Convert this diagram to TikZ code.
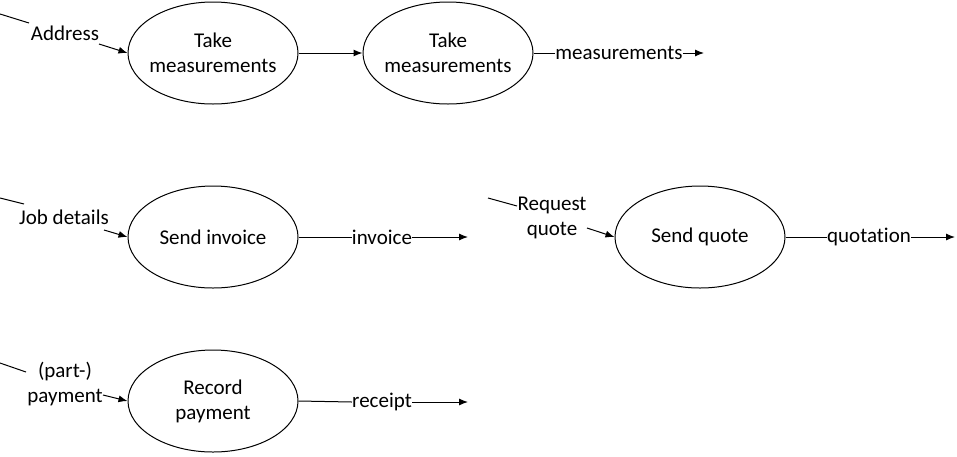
\documentclass[tikz,border=0pt]{standalone}
\usepackage{fontspec}
\setmainfont[Ligatures=NoCommon]{Carlito}
\usetikzlibrary{shapes.geometric,arrows.meta}
\begin{document}
\begin{tikzpicture}[x=1pt,y=-1pt,
  every node/.style={font=\fontsize{21}{25}\selectfont},
  proc/.style={ellipse,draw,line width=1pt,minimum width=170pt,minimum height=102pt,inner xsep=-40pt,inner ysep=-25pt,align=center},
  lbl/.style={inner sep=0pt,align=center},
  flow/.style={line width=1pt},
  arr/.style={line width=1pt,-{Latex[length=9pt,width=7pt]}}]
\useasboundingbox (0,0) rectangle (957,456);
% row 1
\node[proc] (tm1) at (213,53) {Take\\measurements};
\node[proc] (tm2) at (448,53) {Take\\measurements};
\node[lbl] (addr) at (65,33) {Address};
\node[lbl] (meas) at (619,53) {measurements};
\coordinate (a0) at (0,14);
\coordinate (a1) at (29,23);
\coordinate (a2) at (99,44);
\coordinate (m1) at (704,53);
\draw[flow] (a0) -- (a1);
\draw[arr] (a2) -- (tm1.west);
\draw[arr] (tm1.east) -- (tm2.west);
\draw[flow] (tm2.east) -- (meas.west);
\draw[arr] (meas.east) -- (m1);
% row 2
\node[proc] (si) at (213,237) {Send invoice};
\node[lbl] (job) at (64,217) {Job details};
\node[lbl] (inv) at (382,237) {invoice};
\coordinate (j0) at (0,198);
\coordinate (j1) at (24,204);
\coordinate (j2) at (104,230);
\coordinate (i1) at (468,237);
\draw[flow] (j0) -- (j1);
\draw[arr] (j2) -- (si.west);
\draw[flow] (si.east) -- (inv.west);
\draw[arr] (inv.east) -- (i1);
% send quote
\node[proc] (sq) at (700,237) {Send quote};
\node[lbl] (req) at (552,218) {Request\\quote};
\node[lbl] (quo) at (869,237) {quotation};
\coordinate (r0) at (488,198);
\coordinate (r1) at (517,206);
\coordinate (r2) at (587,228);
\coordinate (q1) at (955,237);
\draw[flow] (r0) -- (r1);
\draw[arr] (r2) -- (sq.west);
\draw[flow] (sq.east) -- (quo.west);
\draw[arr] (quo.east) -- (q1);
% row 3
\node[proc] (rp) at (213,401) {Record\\payment};
\node[lbl] (pay) at (65,384) {(part-)\\payment};
\node[lbl] (rec) at (382,402) {receipt};
\coordinate (p0) at (0,363);
\coordinate (p1) at (26,372);
\coordinate (p2) at (103,395);
\coordinate (c1) at (468,402);
\draw[flow] (p0) -- (p1);
\draw[arr] (p2) -- (rp.west);
\draw[flow] (rp.east) -- (rec.west);
\draw[arr] (rec.east) -- (c1);
\end{tikzpicture}
\end{document}
